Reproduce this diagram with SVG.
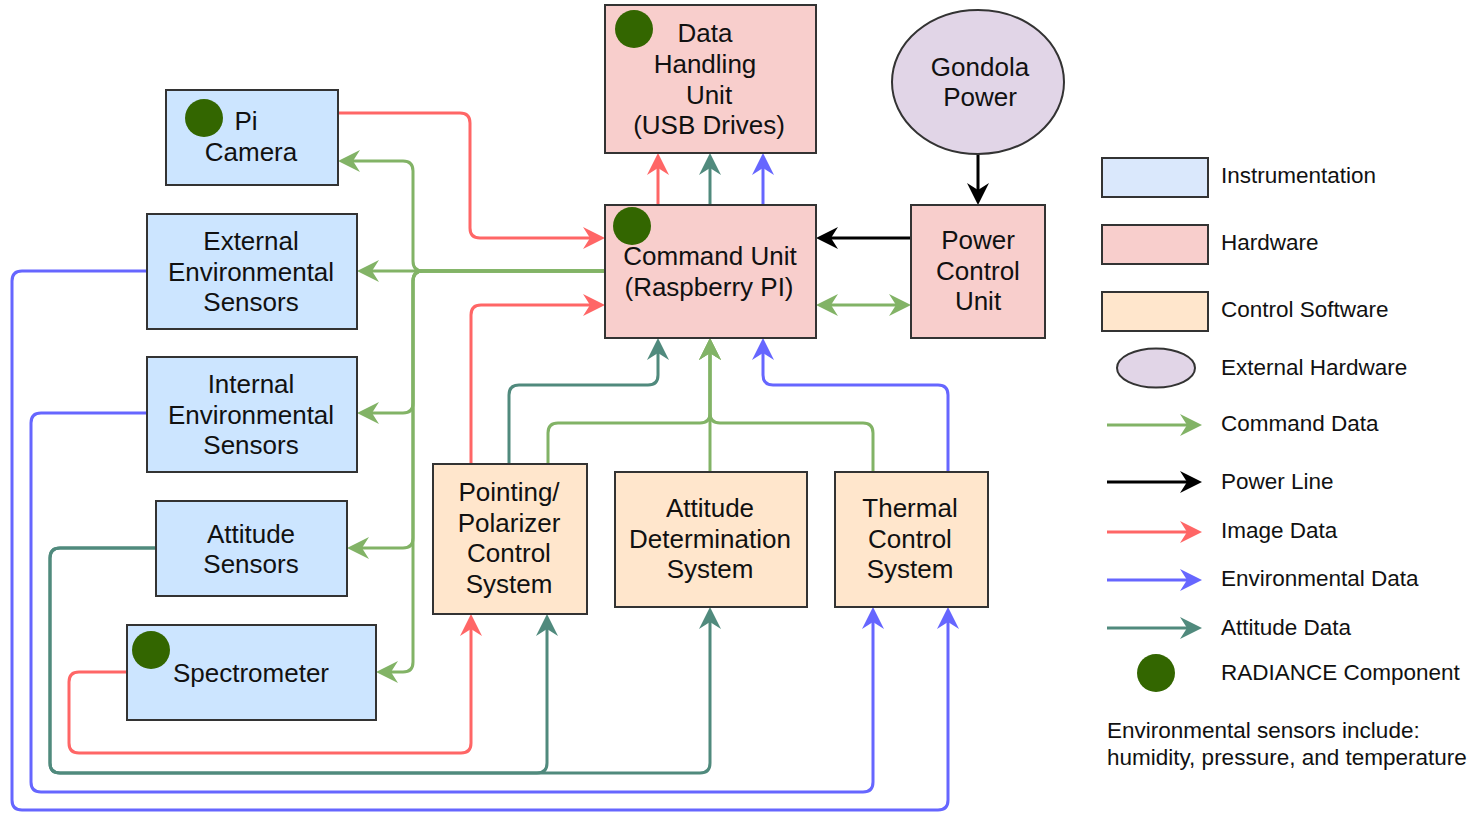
<svg xmlns="http://www.w3.org/2000/svg" width="1475" height="813" viewBox="0 0 1475 813">
<style>
.box{stroke:#333;stroke-width:2}
.inst{fill:#cce5ff}
.hw{fill:#f8cecc}
.sw{fill:#ffe6cc}
.ext{fill:#e1d5e7}
.dot{fill:#336600}
text{font-family:"Liberation Sans",Arial,Helvetica,sans-serif;font-size:26px;fill:#111;text-anchor:middle}
.lg{font-size:22.5px;text-anchor:start}
.e{fill:none;stroke-width:3}
.g{stroke:#82b366}
.r{stroke:#ff6666}
.b{stroke:#6666ff}
.t{stroke:#508a7d}
.k{stroke:#000}
.g.a{marker-end:url(#mg)}
.r.a{marker-end:url(#mr)}
.b.a{marker-end:url(#mb)}
.t.a{marker-end:url(#mt)}
.k.a{marker-end:url(#mk)}
</style>
<defs>
<marker id="mg" markerUnits="userSpaceOnUse" viewBox="-10 -12 26 24" markerWidth="26" markerHeight="24" refX="0" refY="0" orient="auto-start-reverse"><path d="M15,0 L-7,-11 L0,0 L-7,11 Z" fill="#82b366"/></marker>
<marker id="mr" markerUnits="userSpaceOnUse" viewBox="-10 -12 26 24" markerWidth="26" markerHeight="24" refX="0" refY="0" orient="auto"><path d="M15,0 L-7,-11 L0,0 L-7,11 Z" fill="#ff6666"/></marker>
<marker id="mb" markerUnits="userSpaceOnUse" viewBox="-10 -12 26 24" markerWidth="26" markerHeight="24" refX="0" refY="0" orient="auto"><path d="M15,0 L-7,-11 L0,0 L-7,11 Z" fill="#6666ff"/></marker>
<marker id="mt" markerUnits="userSpaceOnUse" viewBox="-10 -12 26 24" markerWidth="26" markerHeight="24" refX="0" refY="0" orient="auto"><path d="M15,0 L-7,-11 L0,0 L-7,11 Z" fill="#508a7d"/></marker>
<marker id="mk" markerUnits="userSpaceOnUse" viewBox="-10 -12 26 24" markerWidth="26" markerHeight="24" refX="0" refY="0" orient="auto"><path d="M15,0 L-7,-11 L0,0 L-7,11 Z" fill="#000"/></marker>
</defs>

<g id="connectors">
<!-- command data from Command Unit to instruments -->
<path class="e g a" d="M605,271 H423 Q413,271 413,261 V171 Q413,161 403,161 H353"/>
<path class="e g a" d="M605,271 H372"/>
<path class="e g a" d="M605,271 H423 Q413,271 413,281 V403 Q413,413 403,413 H372"/>
<path class="e g a" d="M605,271 H423 Q413,271 413,281 V538 Q413,548 403,548 H362"/>
<path class="e g a" d="M605,271 H423 Q413,271 413,281 V662 Q413,672 403,672 H391"/>
<!-- image data -->
<path class="e r a" d="M338,113 H460 Q470,113 470,123 V228 Q470,238 480,238 H590"/>
<path class="e r a" d="M471,464 V315 Q471,305 481,305 H590"/>
<path class="e r a" d="M127,672 H79 Q69,672 69,682 V743 Q69,753 79,753 H461 Q471,753 471,743 V629"/>
<path class="e r a" d="M658,205 V168"/>
<!-- attitude data -->
<path class="e t a" d="M509,464 V395 Q509,385 519,385 H648 Q658,385 658,375 V353"/>
<path class="e t a" d="M156,548 H60 Q50,548 50,558 V763 Q50,773 60,773 H537 Q547,773 547,763 V629"/>
<path class="e t a" d="M156,548 H60 Q50,548 50,558 V763 Q50,773 60,773 H700 Q710,773 710,763 V622"/>
<path class="e t a" d="M710,205 V168"/>
<!-- environmental data -->
<path class="e b a" d="M948,472 V395 Q948,385 938,385 H773 Q763,385 763,375 V353"/>
<path class="e b a" d="M147,271 H22 Q12,271 12,281 V800 Q12,810 22,810 H938 Q948,810 948,800 V622"/>
<path class="e b a" d="M147,413 H41 Q31,413 31,423 V782 Q31,792 41,792 H863 Q873,792 873,782 V622"/>
<path class="e b a" d="M763,205 V168"/>
<!-- command data from control systems -->
<path class="e g a" d="M548,464 V433 Q548,423 558,423 H700 Q710,423 710,413 V353"/>
<path class="e g a" d="M710,472 V353"/>
<path class="e g a" d="M873,472 V433 Q873,423 863,423 H720 Q710,423 710,413 V353"/>
<path class="e g a" d="M831,305 H896" marker-start="url(#mg)"/>
<!-- power -->
<path class="e k a" d="M911,238 H831"/>
<path class="e k a" d="M978,154 V190"/>
</g>

<g id="pi-camera">
<rect class="box inst" x="166" y="90" width="172" height="95"/>
<circle class="dot" cx="204" cy="118" r="19"/>
<text x="246" y="130">Pi</text>
<text x="251" y="161">Camera</text>
</g>
<g id="external-env">
<rect class="box inst" x="147" y="214" width="210" height="115"/>
<text x="251" y="250">External</text>
<text x="251" y="280.5">Environmental</text>
<text x="251" y="311">Sensors</text>
</g>
<g id="internal-env">
<rect class="box inst" x="147" y="357" width="210" height="115"/>
<text x="251" y="393">Internal</text>
<text x="251" y="423.5">Environmental</text>
<text x="251" y="454">Sensors</text>
</g>
<g id="attitude-sensors">
<rect class="box inst" x="156" y="501" width="191" height="95"/>
<text x="251" y="542.5">Attitude</text>
<text x="251" y="573">Sensors</text>
</g>
<g id="spectrometer">
<rect class="box inst" x="127" y="625" width="249" height="95"/>
<circle class="dot" cx="151" cy="650" r="19"/>
<text x="251" y="682">Spectrometer</text>
</g>
<g id="data-handling">
<rect class="box hw" x="605" y="5" width="211" height="148"/>
<circle class="dot" cx="634" cy="29" r="19"/>
<text x="705" y="42">Data</text>
<text x="705" y="73">Handling</text>
<text x="709" y="103.5">Unit</text>
<text x="709" y="134">(USB Drives)</text>
</g>
<g id="command-unit">
<rect class="box hw" x="605" y="205" width="211" height="133"/>
<circle class="dot" cx="632" cy="226" r="19"/>
<text x="710" y="265">Command Unit</text>
<text x="709" y="295.5">(Raspberry PI)</text>
</g>
<g id="gondola-power">
<ellipse class="box ext" cx="978" cy="82" rx="86" ry="72"/>
<text x="980" y="76">Gondola</text>
<text x="980" y="106">Power</text>
</g>
<g id="power-control">
<rect class="box hw" x="911" y="205" width="134" height="133"/>
<text x="978" y="249">Power</text>
<text x="978" y="279.5">Control</text>
<text x="978" y="310">Unit</text>
</g>
<g id="pointing">
<rect class="box sw" x="433" y="464" width="154" height="150"/>
<text x="509" y="501">Pointing/</text>
<text x="509" y="531.5">Polarizer</text>
<text x="509" y="562">Control</text>
<text x="509" y="592.5">System</text>
</g>
<g id="attitude-determination">
<rect class="box sw" x="615" y="472" width="192" height="135"/>
<text x="710" y="517">Attitude</text>
<text x="710" y="547.5">Determination</text>
<text x="710" y="578">System</text>
</g>
<g id="thermal">
<rect class="box sw" x="835" y="472" width="153" height="135"/>
<text x="910" y="517">Thermal</text>
<text x="910" y="547.5">Control</text>
<text x="910" y="578">System</text>
</g>

<g id="legend">
<rect class="box" fill="#dae8fc" x="1102" y="158" width="106" height="39"/>
<text class="lg" x="1221" y="183">Instrumentation</text>
<rect class="box hw" x="1102" y="225" width="106" height="39"/>
<text class="lg" x="1221" y="250">Hardware</text>
<rect class="box sw" x="1102" y="292" width="106" height="39"/>
<text class="lg" x="1221" y="317">Control Software</text>
<ellipse class="box ext" cx="1156" cy="368" rx="39" ry="19.5"/>
<text class="lg" x="1221" y="375">External Hardware</text>
<path class="e g a" d="M1107,425 H1187"/>
<text class="lg" x="1221" y="431">Command Data</text>
<path class="e k a" d="M1107,482 H1187"/>
<text class="lg" x="1221" y="489">Power Line</text>
<path class="e r a" d="M1107,532 H1187"/>
<text class="lg" x="1221" y="538">Image Data</text>
<path class="e b a" d="M1107,580 H1187"/>
<text class="lg" x="1221" y="586">Environmental Data</text>
<path class="e t a" d="M1107,628 H1187"/>
<text class="lg" x="1221" y="635">Attitude Data</text>
<circle class="dot" cx="1156" cy="673" r="19"/>
<text class="lg" x="1221" y="680">RADIANCE Component</text>
<text class="lg" x="1107" y="738">Environmental sensors include:</text>
<text class="lg" x="1107" y="765">humidity, pressure, and temperature</text>
</g>
</svg>
